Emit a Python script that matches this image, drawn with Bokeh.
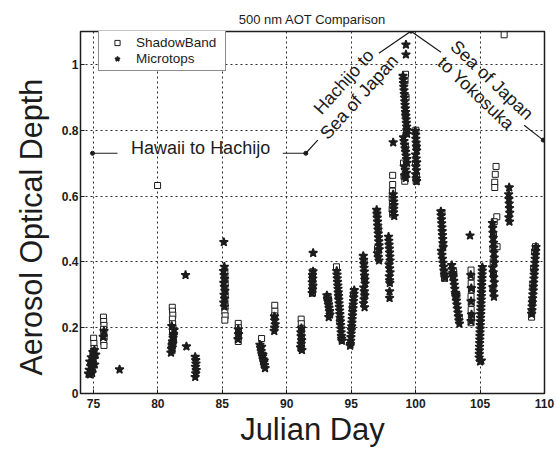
from bokeh.plotting import figure
from bokeh.models import Range1d, FixedTicker, Label, Legend, LegendItem, Title
from bokeh.embed import file_html
from bokeh.resources import INLINE

# ---- 500 nm aerosol optical thickness, by Julian day ----
day_ticks = [75, 80, 85, 90, 95, 100, 105, 110]
aot_ticks = [0, 0.2, 0.4, 0.6, 0.8, 1.0]
aot_tick_labels = ["0", "0.2", "0.4", "0.6", "0.8", "1"]

shadowband_day = [
    75.02, 75.04, 75.06, 74.96,
    75.78, 75.8, 75.82, 75.79, 75.81, 75.83, 75.8, 75.82,
    79.98,
    81.12, 81.14, 81.16, 81.13, 81.15, 81.17, 81.14, 81.2, 81.1,
    85.2, 85.2, 85.22, 85.2, 85.22, 85.2, 85.22, 85.2, 85.22, 85.2,
    86.24, 86.25, 86.26, 86.25, 86.24,
    88.05,
    89.07, 89.08, 89.06,
    91.12, 91.13, 91.14, 91.12, 91.14, 91.13, 91.12,
    92.02, 92.0, 92.03, 92.01, 92.0,
    93.2, 93.28, 93.34,
    93.86, 94.0, 94.12, 94.24,
    95.04, 95.1, 94.96, 95.18,
    96.0, 96.04, 96.02,
    97.04, 97.08, 97.1, 97.0,
    98.22, 98.22, 98.2, 98.18, 98.2, 98.18, 98.22,
    99.1, 99.16, 99.06, 99.2, 99.3, 99.2, 99.26, 99.18, 99.22,
    100.02, 100.06, 100.0, 100.06, 100.04,
    102.2, 102.24, 102.12, 102.04,
    103.38, 103.2, 102.95,
    104.3, 104.32, 104.31, 104.33, 104.3, 104.32, 104.31, 104.33, 104.3,
    106.24, 106.18, 106.14, 106.14, 106.3, 106.1, 106.04, 106.0, 106.02, 106.04, 106.0, 106.32,
    106.87,
    109.0, 109.02, 109.06, 109.1, 109.16, 109.24, 109.3,
]
shadowband_aot = [
    0.168, 0.152, 0.137, 0.12,
    0.232, 0.219, 0.207, 0.195, 0.183, 0.171, 0.158, 0.146,
    0.632,
    0.262, 0.25, 0.238, 0.226, 0.212, 0.198, 0.186, 0.16, 0.13,
    0.372, 0.352, 0.335, 0.318, 0.3, 0.282, 0.265, 0.25, 0.236, 0.223,
    0.213, 0.2, 0.186, 0.172, 0.158,
    0.167,
    0.268, 0.25, 0.236,
    0.226, 0.212, 0.198, 0.184, 0.168, 0.152, 0.137,
    0.37, 0.352, 0.334, 0.318, 0.305,
    0.295, 0.27, 0.245,
    0.385, 0.3, 0.22, 0.17,
    0.2, 0.26, 0.155, 0.3,
    0.4, 0.35, 0.3,
    0.44, 0.428, 0.5, 0.55,
    0.663, 0.635, 0.615, 0.595, 0.578, 0.56, 0.545,
    0.66, 0.645, 0.7, 0.75, 0.8, 0.85, 0.9, 0.95, 0.97,
    0.8, 0.75, 0.7, 0.66, 0.645,
    0.365, 0.35, 0.45, 0.55,
    0.232, 0.3, 0.37,
    0.375, 0.355, 0.335, 0.315, 0.295, 0.275, 0.255, 0.235, 0.215,
    0.69, 0.666, 0.642, 0.626, 0.537, 0.522, 0.48, 0.44, 0.4, 0.36, 0.32, 0.446,
    1.09,
    0.232, 0.25, 0.28, 0.33, 0.38, 0.43, 0.446,
]

microtops_day = [
    74.62, 74.68, 74.74, 74.8, 74.86, 74.92, 74.98, 75.04, 75.1, 75.18, 74.72, 74.84, 74.96, 75.08, 74.9,
    75.76, 75.82,
    77.03,
    81.02, 81.06, 81.1, 81.14, 81.18, 81.22, 81.26, 81.08, 81.16, 81.2, 81.12,
    82.15, 82.22,
    82.9, 82.94, 82.98, 82.92, 82.96, 82.94, 82.9,
    85.12, 85.16, 85.1, 85.14, 85.18, 85.12, 85.16, 85.2, 85.14, 85.18, 85.12, 85.16,
    86.22, 86.26, 86.24,
    87.92, 87.97, 88.02, 88.07, 88.12, 88.17, 88.22, 88.27, 88.32, 88.05, 88.15, 88.25,
    89.03, 89.07, 89.11, 89.07, 89.05,
    91.08, 91.12, 91.16, 91.12, 91.1, 91.14, 91.18,
    92.05, 91.97, 92.0, 92.03, 91.98, 92.02, 92.0, 92.04,
    93.12, 93.16, 93.2, 93.24, 93.28, 93.32, 93.36, 93.26, 93.18,
    93.88, 93.9, 93.92, 93.94, 93.96, 93.98, 94.0, 94.02, 94.04, 94.06, 94.08,
    94.1, 94.12, 94.14, 94.16, 94.18, 94.2, 94.22, 94.24, 94.26, 94.28,
    95.24, 95.22, 95.2, 95.18, 95.16, 95.14, 95.12, 95.1, 95.08,
    95.06, 95.04, 95.02, 95.0, 94.98, 94.96, 94.94, 94.92,
    95.94, 95.96, 95.98, 96.0, 96.02, 96.04, 96.06, 96.08, 95.98, 96.02, 96.06, 96.0, 95.96, 96.04,
    96.98, 97.0, 97.02, 97.04, 97.06, 97.08, 97.1, 97.12, 97.14, 97.16, 97.18, 97.04, 97.1, 97.16,
    97.9, 97.92, 97.94, 97.96, 97.98, 98.0, 98.02, 97.94, 97.98, 98.02, 97.96, 97.98, 98.0,
    97.98, 97.98,
    98.26, 98.28, 98.3, 98.32, 98.3, 98.28, 98.34,
    98.26,
    99.25, 99.25,
    99.02, 99.04, 99.06, 99.08, 99.1, 99.12, 99.14, 99.16, 99.18, 99.2, 99.22, 99.24, 99.26, 99.28, 99.3,
    99.32, 99.34, 99.06, 99.1, 99.14, 99.18, 99.22, 99.26, 99.3, 99.34, 99.12, 99.2, 99.28, 99.16, 99.24,
    99.98, 100.0, 100.02, 100.04, 100.06, 100.08, 100.0, 100.04, 100.08, 100.02, 100.06, 100.0, 100.04, 100.08,
    101.96, 101.98, 102.0, 102.02, 102.04, 102.06, 102.08, 102.1, 102.12, 102.14,
    102.0, 102.04, 102.08, 102.12, 102.16, 102.2, 102.24, 102.28,
    102.8, 102.84, 102.88, 102.92, 102.96, 103.0, 103.04, 103.08, 103.12, 103.16,
    103.2, 103.24, 103.28, 103.32, 103.36, 103.4, 102.9, 103.1,
    104.22,
    104.28, 104.32, 104.3, 104.34, 104.3,
    105.18, 105.17, 105.16, 105.15, 105.14, 105.13, 105.12, 105.11, 105.1, 105.09, 105.08, 105.07, 105.06,
    105.05, 105.04, 105.03, 105.02, 105.01, 105.0, 104.99, 104.98, 104.97, 104.96, 104.95, 104.94, 104.93,
    105.1, 105.0,
    105.96, 105.98, 106.0, 106.02, 106.04, 106.06, 106.08, 106.1, 106.12, 105.98, 106.02, 106.06, 106.1, 106.0, 106.04, 106.08,
    107.26,
    107.22, 107.24, 107.26, 107.28, 107.3, 107.24, 107.28,
    109.34, 109.32, 109.3, 109.28, 109.26, 109.24, 109.22, 109.2, 109.18,
    109.16, 109.14, 109.12, 109.1, 109.08, 109.06, 109.04, 109.02, 109.0,
]
microtops_aot = [
    0.06, 0.072, 0.058, 0.083, 0.066, 0.094, 0.078, 0.105, 0.088, 0.118, 0.097, 0.11, 0.126, 0.132, 0.062,
    0.172, 0.19,
    0.073,
    0.124, 0.135, 0.147, 0.158, 0.169, 0.181, 0.193, 0.205, 0.152, 0.176, 0.14,
    0.36, 0.143,
    0.05, 0.061, 0.071, 0.081, 0.091, 0.101, 0.111,
    0.46, 0.385, 0.372, 0.36, 0.348, 0.336, 0.324, 0.312, 0.3, 0.288, 0.276, 0.264,
    0.165, 0.18, 0.195,
    0.148, 0.139, 0.129, 0.12, 0.112, 0.104, 0.095, 0.086, 0.077, 0.142, 0.118, 0.1,
    0.19, 0.2, 0.21, 0.222, 0.234,
    0.14, 0.151, 0.162, 0.174, 0.186, 0.198, 0.132,
    0.427, 0.305, 0.316, 0.327, 0.338, 0.349, 0.36, 0.371,
    0.298, 0.289, 0.28, 0.27, 0.26, 0.25, 0.24, 0.232, 0.285,
    0.372, 0.361, 0.35, 0.339, 0.328, 0.318, 0.307, 0.296, 0.285, 0.274, 0.263,
    0.252, 0.241, 0.23, 0.219, 0.208, 0.197, 0.186, 0.175, 0.166, 0.16,
    0.314, 0.303, 0.292, 0.281, 0.27, 0.259, 0.248, 0.237, 0.226,
    0.215, 0.204, 0.193, 0.182, 0.171, 0.16, 0.15, 0.145,
    0.418, 0.406, 0.394, 0.382, 0.37, 0.358, 0.346, 0.334, 0.322, 0.31, 0.298, 0.286, 0.274, 0.262,
    0.558, 0.546, 0.534, 0.522, 0.51, 0.498, 0.486, 0.474, 0.462, 0.45, 0.438, 0.426, 0.414, 0.404,
    0.476, 0.464, 0.452, 0.44, 0.428, 0.416, 0.404, 0.392, 0.38, 0.368, 0.356, 0.344, 0.336,
    0.31, 0.29,
    0.605, 0.594, 0.583, 0.572, 0.561, 0.55, 0.539,
    0.763,
    1.06, 1.03,
    0.965, 0.954, 0.943, 0.932, 0.921, 0.91, 0.899, 0.888, 0.877, 0.866, 0.855, 0.844, 0.833, 0.822, 0.811,
    0.8, 0.789, 0.778, 0.767, 0.756, 0.745, 0.734, 0.723, 0.712, 0.701, 0.69, 0.68, 0.67, 0.662, 0.655,
    0.798, 0.786, 0.774, 0.762, 0.75, 0.738, 0.726, 0.714, 0.702, 0.69, 0.678, 0.666, 0.654, 0.645,
    0.553, 0.541, 0.529, 0.517, 0.505, 0.493, 0.481, 0.469, 0.457, 0.445,
    0.433, 0.421, 0.409, 0.397, 0.385, 0.373, 0.361, 0.352,
    0.39, 0.378, 0.366, 0.354, 0.342, 0.33, 0.318, 0.306, 0.294, 0.282,
    0.27, 0.258, 0.246, 0.234, 0.222, 0.212, 0.36, 0.3,
    0.48,
    0.36, 0.32, 0.28, 0.24, 0.22,
    0.384, 0.373, 0.362, 0.351, 0.34, 0.329, 0.318, 0.307, 0.296, 0.285, 0.274, 0.263, 0.252,
    0.241, 0.23, 0.219, 0.208, 0.197, 0.186, 0.175, 0.164, 0.153, 0.142, 0.131, 0.12, 0.109,
    0.1, 0.097,
    0.518, 0.503, 0.488, 0.473, 0.458, 0.443, 0.428, 0.413, 0.398, 0.383, 0.368, 0.353, 0.338, 0.323, 0.308, 0.294,
    0.626,
    0.605, 0.591, 0.577, 0.563, 0.549, 0.535, 0.522,
    0.445, 0.433, 0.421, 0.409, 0.397, 0.385, 0.373, 0.361, 0.349,
    0.337, 0.325, 0.313, 0.301, 0.289, 0.277, 0.265, 0.253, 0.242,
]

# ---- cruise legs drawn over the data ----
leg_day = [[74.93, 76.87], [89.70, 91.48, 92.41], [97.15, 99.64, 101.97], [108.42, 109.9]]
leg_aot = [[0.730, 0.730], [0.730, 0.730, 0.770], [1.034, 1.101, 1.037], [0.815, 0.770]]
port_day = [74.93, 91.48, 99.64, 109.9]
port_aot = [0.730, 0.730, 1.101, 0.770]

leg_text = ["Hawaii to Hachijo", "Hachijo to", "Sea of Japan", "Sea of Japan", "to Yokosuka"]
leg_text_day = [83.32, 94.43, 95.62, 105.92, 104.69]
leg_text_aot = [0.745, 0.947, 0.901, 0.952, 0.912]
leg_text_angle = [0, 48, 48, -43.5, -43.5]

FONT = "Liberation Sans"
INK = "#1c1c1c"

p = figure(width=556, height=449, output_backend="svg", toolbar_location=None,
           x_range=Range1d(74, 110), y_range=Range1d(0, 1.1),
           min_border_left=80, min_border_right=12, min_border_top=31, min_border_bottom=56,
           title="500 nm AOT Comparison")
p.background_fill_color = "white"
p.border_fill_color = "white"
p.outline_line_color = INK
p.outline_line_width = 1.5

p.title.align = "center"
p.title.text_font = FONT
p.title.text_font_size = "13px"
p.title.text_font_style = "normal"
p.title.text_color = INK
p.title.standoff = 9

x_ticker = FixedTicker(ticks=day_ticks)
y_ticker = FixedTicker(ticks=aot_ticks)
p.xaxis.ticker = x_ticker
p.yaxis.ticker = y_ticker
p.xgrid.ticker = x_ticker
p.ygrid.ticker = y_ticker
p.yaxis.major_label_overrides = dict(zip(aot_ticks, aot_tick_labels))
for ax in (p.xaxis[0], p.yaxis[0]):
    ax.axis_line_color = None
    ax.major_tick_in = 4
    ax.major_tick_out = 0
    ax.major_tick_line_color = INK
    ax.minor_tick_line_color = None
    ax.major_label_text_font = FONT
    ax.major_label_text_font_style = "bold"
    ax.major_label_text_font_size = "12px"
    ax.major_label_text_color = INK
    ax.axis_label_text_font = FONT
    ax.axis_label_text_font_style = "normal"
    ax.axis_label_text_color = INK
p.xaxis.axis_label = "Julian Day"
p.xaxis.axis_label_text_font_size = "31px"
p.xaxis.major_label_standoff = 5
p.yaxis.major_label_standoff = 2
p.xaxis.axis_label_standoff = 1

# vertical axis title, starting a little above the frame's bottom
p.add_layout(Title(text="Aerosol Optical Depth", align="left", offset=18, standoff=21,
                   text_font=FONT, text_font_size="30.5px", text_font_style="normal",
                   text_color=INK), "left")

p.grid.grid_line_color = "#2a2a2a"
p.grid.grid_line_alpha = 1
p.grid.grid_line_dash = "2 3"
p.grid.grid_line_width = 1

sb = p.scatter(shadowband_day, shadowband_aot, marker="square", size=6,
               line_color=INK, fill_color="white", line_width=1)
mt = p.scatter(microtops_day, microtops_aot, marker="star", size=9,
               line_color=INK, fill_color=INK, line_width=1.5)

p.multi_line(leg_day, leg_aot, line_color=INK, line_width=1.2)
p.scatter(port_day, port_aot, marker="circle", size=4, line_color=INK, fill_color=INK)

for txt, d, a, ang in zip(leg_text, leg_text_day, leg_text_aot, leg_text_angle):
    p.add_layout(Label(x=d, y=a, text=txt, angle=ang, angle_units="deg",
                       text_align="center", text_baseline="middle",
                       text_font=FONT, text_font_size="18px", text_color=INK))

legend = Legend(items=[LegendItem(label="ShadowBand", renderers=[sb]),
                       LegendItem(label="Microtops", renderers=[mt])],
                location=(18, 322), padding=4, spacing=1, margin=0,
                glyph_width=28, glyph_height=13, label_height=13, label_width=85,
                label_standoff=5, label_text_font=FONT, label_text_font_size="13.5px",
                label_text_color=INK, border_line_color=INK, border_line_width=1,
                background_fill_color="white", background_fill_alpha=1)
p.add_layout(legend)

open("out.html", "w").write(file_html(p, INLINE))
